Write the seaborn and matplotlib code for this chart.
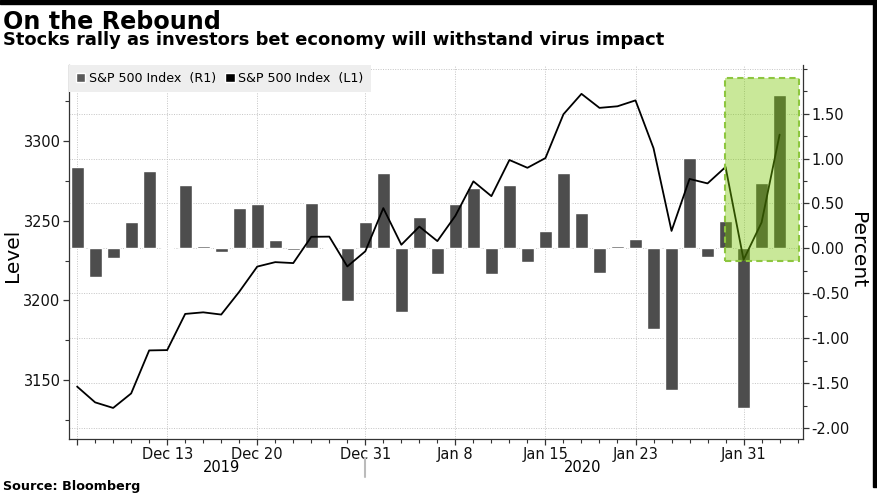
import numpy as np
import pandas as pd
import matplotlib
matplotlib.use("Agg")
import matplotlib.pyplot as plt
import seaborn as sns
from matplotlib.patches import Patch, Rectangle
from matplotlib.lines import Line2D
from matplotlib.ticker import FixedLocator, MultipleLocator, FormatStrFormatter

# trading days shown on the chart
dates = [
    "2019-12-06", "2019-12-09", "2019-12-10", "2019-12-11", "2019-12-12", "2019-12-13",
    "2019-12-16", "2019-12-17", "2019-12-18", "2019-12-19", "2019-12-20", "2019-12-23",
    "2019-12-24", "2019-12-26", "2019-12-27", "2019-12-30", "2019-12-31", "2020-01-02",
    "2020-01-03", "2020-01-06", "2020-01-07", "2020-01-08", "2020-01-09", "2020-01-10",
    "2020-01-13", "2020-01-14", "2020-01-15", "2020-01-16", "2020-01-17", "2020-01-21",
    "2020-01-22", "2020-01-23", "2020-01-24", "2020-01-27", "2020-01-28", "2020-01-29",
    "2020-01-30", "2020-01-31", "2020-02-03", "2020-02-04",
]

# S&P 500 level (L1)
level = [
    3145.9, 3136.0, 3132.5, 3141.6, 3168.6, 3168.8, 3191.5, 3192.5, 3191.1, 3205.4,
    3221.2, 3224.0, 3223.4, 3239.9, 3240.0, 3221.3, 3230.8, 3257.9, 3234.9, 3246.3,
    3237.2, 3253.1, 3274.7, 3265.4, 3288.1, 3283.2, 3289.3, 3316.8, 3329.6, 3320.8,
    3321.8, 3325.5, 3295.5, 3243.6, 3276.2, 3273.4, 3283.7, 3225.5, 3248.9, 3304.0,
]

# daily percent change (R1)
pct_change = [
    0.91, -0.32, -0.11, 0.29, 0.86, 0.01, 0.71, 0.03, -0.04, 0.45,
    0.49, 0.09, -0.02, 0.51, 0.00, -0.58, 0.29, 0.84, -0.71, 0.35,
    -0.28, 0.49, 0.67, -0.29, 0.70, -0.15, 0.19, 0.84, 0.39, -0.27,
    0.03, 0.11, -0.90, -1.57, 1.01, -0.09, 0.31, -1.77, 0.73, 1.71,
]

label_dates = ["2019-12-13", "2019-12-20", "2019-12-31", "2020-01-08",
               "2020-01-15", "2020-01-23", "2020-01-31"]
years = ["2019", "2020"]
highlight_start = "2020-01-30"

sns.set_theme(style="white")
plt.rcParams["font.family"] = ["DejaVu Sans"]
plt.rcParams["axes.unicode_minus"] = False
plt.rcParams["text.color"] = "black"

df = pd.DataFrame({"date": pd.to_datetime(dates), "level": level, "pct": pct_change})
df["i"] = np.arange(len(df))

fig = plt.figure(figsize=(8.78, 4.94), dpi=100)
ax = fig.add_axes([0.0786, 0.1113, 0.836, 0.7571])

# bars on the right-hand (percent) axis
sns.barplot(data=df, x="i", y="pct", color="#4d4d4d", saturation=1,
            width=0.72, ax=ax, zorder=2)
ax.set_xlabel("")
ax.set_ylabel("")

# line on the left-hand (level) axis
ax2 = ax.twinx()
sns.lineplot(data=df, x="i", y="level", ax=ax2, color="black", linewidth=1.3)
ax2.set_xlabel("")
ax2.set_ylabel("")

ax.yaxis.tick_right()
ax.set_ylim(-2.12, 2.04)
ax.yaxis.set_major_locator(FixedLocator(np.arange(-2.0, 1.51, 0.5)))
ax.yaxis.set_minor_locator(FixedLocator(np.arange(-2.0, 2.01, 0.25)))
ax.yaxis.set_major_formatter(FormatStrFormatter("%.2f"))

ax2.yaxis.tick_left()
ax2.set_ylim(3113, 3347.7)
ax2.yaxis.set_major_locator(MultipleLocator(50))
ax2.yaxis.set_minor_locator(MultipleLocator(25))

# x axis: one minor tick per trading day, labels on selected dates
idx = df.set_index(df["date"].dt.strftime("%Y-%m-%d"))["i"]
major = [0] + [int(idx[d]) for d in label_dates]
labels = [""] + [f"{pd.Timestamp(d):%b} {pd.Timestamp(d).day}" for d in label_dates]
ax.set_xlim(-0.45, len(df) + 0.3)
ax.set_xticks(major)
ax.set_xticklabels(labels)
ax.xaxis.set_minor_locator(FixedLocator(np.arange(0, len(df) + 1)))

for a in (ax, ax2):
    a.tick_params(which="both", direction="out", colors="#333333", labelcolor="#111111",
                  labelsize=10.5, pad=2)
    a.tick_params(which="major", length=4, width=0.9)
    a.tick_params(which="minor", length=3, width=0.8)
    for s in a.spines.values():
        s.set_visible(False)
ax.tick_params(axis="x", which="both", bottom=True)
for s in ("left", "right", "bottom"):
    ax.spines[s].set_visible(True)
    ax.spines[s].set_color("#333333")
    ax.spines[s].set_linewidth(0.9)

ax.grid(True, which="major", axis="both", color="#c4c4c4",
        linestyle=(0, (1, 1.5)), linewidth=0.7)
ax.axhline(2.0, color="#c4c4c4", linestyle=(0, (1, 1.5)), linewidth=0.7, zorder=0)
ax.set_axisbelow(True)

# green highlight of the rebound
x0 = idx[highlight_start] - 0.05
box = Rectangle((x0, -0.145), len(df) + 0.05 - x0, 2.035, transform=ax.transData,
                facecolor=(0.47, 0.78, 0.0, 0.4), edgecolor="#8dc63f",
                linestyle=(0, (3, 2)), linewidth=1.5, zorder=5)
ax2.add_artist(box)

leg = ax2.legend(
    handles=[Patch(facecolor="#5a5a5a", label="S&P 500 Index  (R1)"),
             Patch(facecolor="black", label="S&P 500 Index  (L1)")],
    loc="upper left", bbox_to_anchor=(0, 1), ncol=2, frameon=True,
    facecolor="#eeeeee", edgecolor="none", fancybox=False, framealpha=1,
    fontsize=9.1, handlelength=0.75, handleheight=0.75, handletextpad=0.3,
    columnspacing=0.7, borderaxespad=0, borderpad=0.55,
)

# texts
fig.text(3 / 878, 1 - 29 / 494, "On the Rebound", fontsize=17.2, fontweight="bold",
         va="baseline", ha="left")
fig.text(3 / 878, 1 - 45 / 494,
         "Stocks rally as investors bet economy will withstand virus impact",
         fontsize=12.9, fontweight="bold", va="baseline", ha="left")
fig.text(3 / 878, 1 - 490 / 494, "Source: Bloomberg", fontsize=9.2, fontweight="bold",
         va="baseline", ha="left")
fig.text(13 / 878, 1 - 255 / 494, "Level", fontsize=14.5, rotation=90,
         va="center", ha="center")
fig.text(858 / 878, 1 - 250 / 494, "Percent", fontsize=14.5, rotation=270,
         va="center", ha="center")
fig.text(222 / 878, 1 - 467 / 494, years[0], fontsize=10.5, va="center", ha="center")
fig.text(583 / 878, 1 - 467 / 494, years[1], fontsize=10.5, va="center", ha="center")
fig.add_artist(Line2D([365 / 878, 365 / 878], [1 - 458 / 494, 1 - 477 / 494],
                      transform=fig.transFigure, color="#bbbbbb", linewidth=1.5))

# dark frame on top and right edges
fig.add_artist(Rectangle((0, 1 - 4 / 494), 1, 4 / 494, transform=fig.transFigure,
                         color="black"))
fig.add_artist(Rectangle((873 / 878, 7 / 494), 5 / 878, 1, transform=fig.transFigure,
                         color="black"))

fig.savefig("out.png", dpi=100)
print("Chart saved as out.png")
